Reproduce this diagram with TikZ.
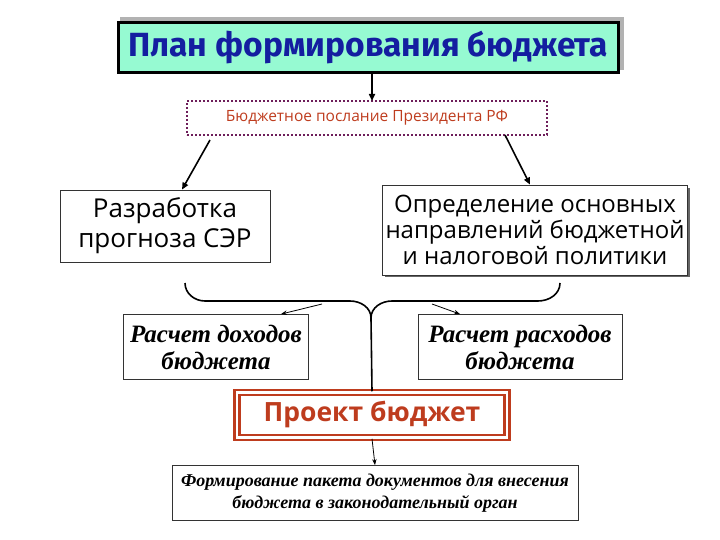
\documentclass[tikz,border=0pt]{standalone}
\usepackage{fontspec}
\setmainfont{Liberation Serif}
\newfontfamily\sans{Open Sans}
\newfontfamily\titlef{Fira Sans}
\usetikzlibrary{arrows.meta}
\definecolor{mint}{RGB}{150,250,210}
\definecolor{tblue}{RGB}{20,30,160}
\definecolor{brn}{RGB}{190,60,30}
\definecolor{purp}{RGB}{110,30,90}
\begin{document}
\begin{tikzpicture}[x=1pt,y=-1pt,
  box/.style={draw=black!80,line width=0.8pt,fill=white,minimum height=#1,align=center,inner sep=2pt},
  arr/.style={-{Triangle[length=7pt,width=6pt]},line width=1.6pt},
  sarr/.style={-{Stealth[length=6pt]},line width=0.8pt}]
\useasboundingbox (0,0) rectangle (720,540);
\fill[gray!60] (120,17) rectangle (624,70);
\node[draw=black,line width=3pt,fill=mint,minimum width=500pt,minimum height=50pt,inner sep=0pt,font=\titlef\bfseries\fontsize{33.5}{33}\selectfont,text=tblue] (t) at (368,48) {План формирования бюджета};
\node[draw=purp,dotted,line width=2pt,minimum width=360pt,minimum height=34pt,font=\sans\fontsize{15.5}{16}\selectfont,text=brn] (p) at (367,118) {Бюджетное послание Президента РФ};
\draw[arr] (t.south -| 372,0) -- (372,101);
\coordinate (pl) at (210,140); \coordinate (pr) at (505,135);
\node[box=72pt,minimum width=210pt,font=\sans\fontsize{26}{30}\selectfont] (a) at (165,226) {Разработка\\прогноза СЭР};
\fill[black!60] (385,188) rectangle (690,277);
\node[box=90pt,minimum width=305pt,font=\sans\fontsize{24}{26}\selectfont] (b) at (535,230) {Определение основных\\направлений бюджетной\\и налоговой политики};
\draw[arr] (pl) -- (a.north -| 182,0);
\draw[arr] (pr) -- (b.north -| 530,0);
\node[box=65pt,minimum width=185pt,font=\bfseries\itshape\fontsize{25}{27}\selectfont] (c) at (216,347) {Расчет доходов\\бюджета};
\node[box=65pt,minimum width=204pt,font=\bfseries\itshape\fontsize{25}{27}\selectfont] (d) at (520,347) {Расчет расходов\\бюджета};
\draw[line width=1.6pt] (185,283) to[out=-90,in=180] (205,301) -- (350,301) to[out=0,in=90] (371,318) to[out=90,in=180] (392,301) -- (538,301) to[out=0,in=-90] (560,283);
\coordinate (tip) at (371,318);
\node[draw=brn,double=white,double distance=2.5pt,line width=2.5pt,minimum width=270pt,minimum height=45pt,text=brn,font=\sans\bfseries\fontsize{26.5}{28}\selectfont] (e) at (372,415) {Проект бюджет};
\draw[line width=1.6pt] (tip) -- (e.north);
\coordinate (s1) at (322,304); \coordinate (s2) at (432,304);
\draw[sarr] (s1) -- (c.north -| 281,0);
\draw[sarr] (s2) -- (d.north -| 460,0);
\node[box=55pt,minimum width=406pt,font=\bfseries\itshape\fontsize{18}{22}\selectfont] (f) at (375,493) {Формирование пакета документов для внесения\\бюджета в законодательный орган};
\draw[sarr] (e.south) -- (f.north);
\end{tikzpicture}
\end{document}
